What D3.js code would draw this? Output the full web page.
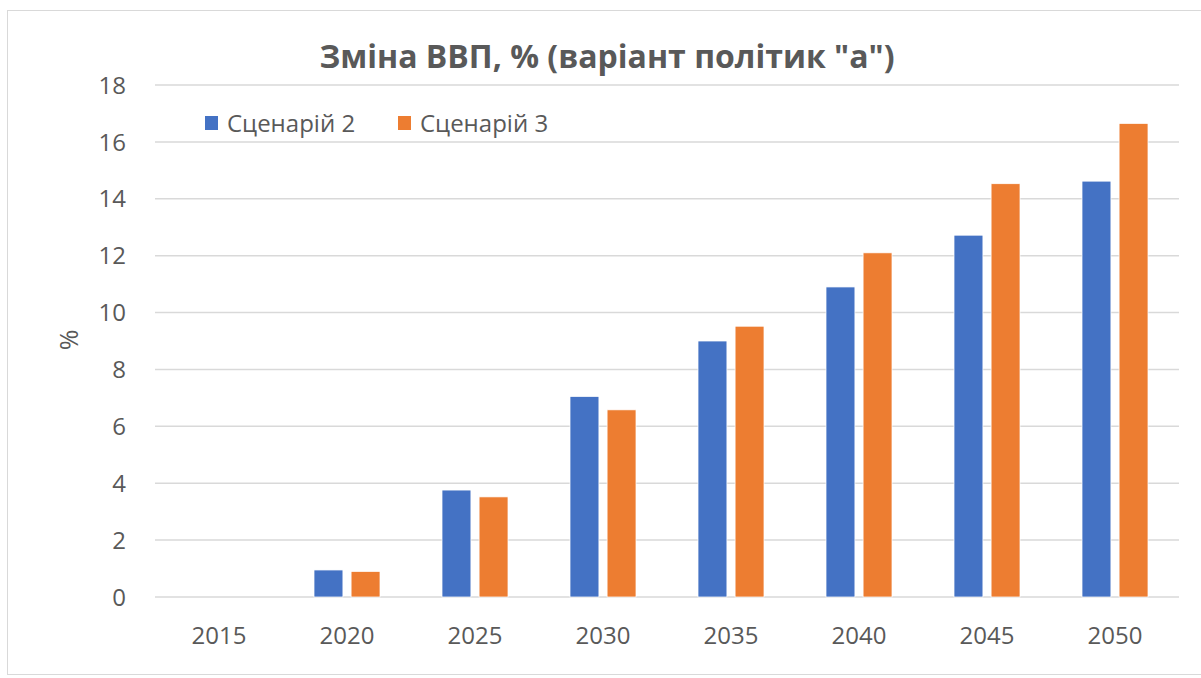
<!DOCTYPE html>
<html>
<head>
<meta charset="utf-8">
<script src="https://cdn.jsdelivr.net/npm/d3@7"></script>
<style>
  body { margin: 0; background: #fff; }
  text { font-family: "Open Sans", sans-serif; fill: #595959; }
</style>
</head>
<body>
<div id="chart"></div>
<script>
// Data
const years = ["2015", "2020", "2025", "2030", "2035", "2040", "2045", "2050"];
const series = ["Сценарій 2", "Сценарій 3"];
const scenario2 = [0, 0.95, 3.76, 7.05, 9.0, 10.9, 12.72, 14.62];
const scenario3 = [0, 0.9, 3.52, 6.58, 9.52, 12.1, 14.53, 16.65];
const yTicks = [0, 2, 4, 6, 8, 10, 12, 14, 16, 18];
const colors = ["#4472c4", "#ed7d31"];

const width = 1201, height = 678;
const margin = { left: 155, right: 22, top: 85, bottom: 81 };

const svg = d3.select("#chart").append("svg")
    .attr("width", width)
    .attr("height", height);

// chart frame
svg.append("rect")
    .attr("x", 7.5).attr("y", 10.5)
    .attr("width", width + 10).attr("height", height - 14)
    .attr("fill", "#fff")
    .attr("stroke", "#d9d9d9");

const x = d3.scaleBand()
    .domain(years)
    .range([margin.left, width - margin.right]);

const y = d3.scaleLinear()
    .domain([0, 18])
    .range([height - margin.bottom, margin.top]);

const inner = d3.scaleBand()
    .domain(series)
    .range([x.bandwidth() / 2 - 33, x.bandwidth() / 2 + 33])
    .paddingInner(0.22);

// gridlines
svg.append("g")
  .selectAll("line")
  .data(yTicks)
  .join("line")
    .attr("x1", margin.left)
    .attr("x2", width - margin.right)
    .attr("y1", d => y(d))
    .attr("y2", d => y(d))
    .attr("stroke", "#d9d9d9")
    .attr("stroke-width", 1.5);

// y tick labels
svg.append("g")
  .selectAll("text")
  .data(yTicks)
  .join("text")
    .attr("x", 126)
    .attr("y", d => y(d))
    .attr("dy", "0.36em")
    .attr("text-anchor", "end")
    .style("font-size", "24px")
    .text(d => d);

// x tick labels
svg.append("g")
  .selectAll("text")
  .data(years)
  .join("text")
    .attr("x", d => x(d) + x.bandwidth() / 2)
    .attr("y", 644)
    .attr("text-anchor", "middle")
    .style("font-size", "24px")
    .text(d => d);

// bars
const values = [scenario2, scenario3];
series.forEach((s, i) => {
  svg.append("g")
    .selectAll("rect")
    .data(years.map((yr, j) => ({ yr, v: values[i][j] })))
    .join("rect")
      .attr("x", d => x(d.yr) + inner(s))
      .attr("y", d => y(d.v))
      .attr("width", inner.bandwidth())
      .attr("height", d => y(0) - y(d.v))
      .attr("fill", colors[i])
      .attr("stroke", "#fff")
      .attr("stroke-width", 0.75);
});

// title
svg.append("text")
    .attr("x", 607)
    .attr("y", 68)
    .attr("text-anchor", "middle")
    .style("font-size", "32px")
    .style("font-weight", "bold")
    .text("Зміна ВВП, % (варіант політик \"а\")");

// y axis title
svg.append("text")
    .attr("transform", "translate(78,340) rotate(-90)")
    .attr("text-anchor", "middle")
    .style("font-size", "25px")
    .text("%");

// legend
const legendX = [205, 398];
const legend = svg.append("g")
  .selectAll("g")
  .data(series)
  .join("g")
    .attr("transform", (d, i) => `translate(${legendX[i]},116)`);
legend.append("rect")
    .attr("width", 13).attr("height", 14)
    .attr("fill", (d, i) => colors[i]);
legend.append("text")
    .attr("x", 22)
    .attr("y", 7)
    .attr("dy", "0.36em")
    .style("font-size", "24px")
    .text(d => d);
</script>
</body>
</html>
